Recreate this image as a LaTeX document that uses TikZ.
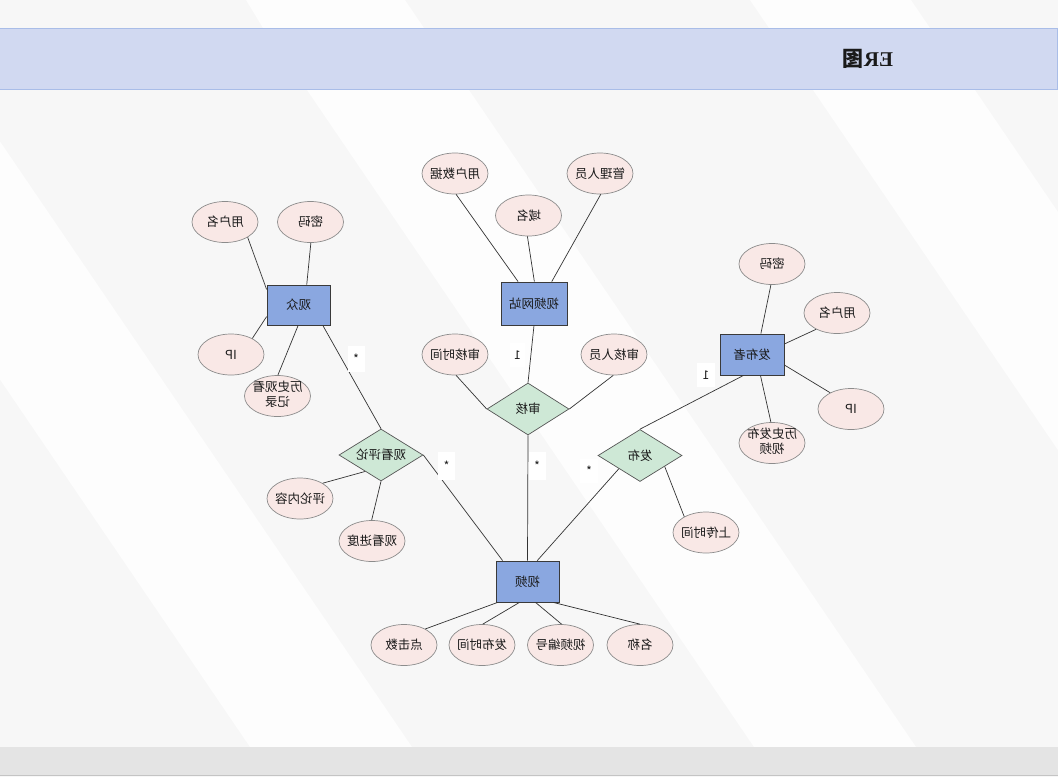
\documentclass[tikz,border=0pt]{standalone}
\usepackage{fontspec}
\setmainfont{Noto Sans CJK SC}
\newfontfamily\titlefont{Liberation Serif}
\usetikzlibrary{shapes.geometric}
\definecolor{bggray}{HTML}{F7F7F7}
\definecolor{bgwhite}{HTML}{FDFDFD}
\definecolor{headfill}{HTML}{D1D9F1}
\definecolor{headline}{HTML}{A9BDE8}
\definecolor{footfill}{HTML}{E4E4E4}
\definecolor{footline}{HTML}{C4C4C4}
\definecolor{entfill}{HTML}{8AA7E0}
\definecolor{entborder}{HTML}{3A3A3A}
\definecolor{relfill}{HTML}{CEE8D6}
\definecolor{relborder}{HTML}{555555}
\definecolor{attrfill}{HTML}{F9E8E6}
\definecolor{attrborder}{HTML}{8C8C8C}
\definecolor{linkc}{HTML}{333333}
\definecolor{txt}{HTML}{1A1A1A}
\newcommand{\mir}[1]{\reflectbox{#1}}
\newcommand{\mira}[1]{\makebox[0pt]{\reflectbox{#1}}}
\newcommand{\mirtwo}[2]{\makebox[0pt]{\reflectbox{\begin{tabular}{@{}c@{}}#1\\[0.5pt]#2\end{tabular}}}}
\tikzset{
  ent/.style={rectangle, draw=entborder, fill=entfill, line width=0.8pt, minimum width=64, minimum height=41, inner sep=0, text=txt, font=\fontsize{12.5}{15}\selectfont},
  rel/.style={diamond, draw=relborder, fill=relfill, line width=0.7pt, minimum width=84, minimum height=52, inner sep=0, aspect=1.6, text=txt, font=\fontsize{12.5}{15}\selectfont},
  attr/.style={ellipse, draw=attrborder, fill=attrfill, line width=0.7pt, minimum width=66, minimum height=41, inner sep=0, text=txt, font=\fontsize{12.5}{15}\selectfont},
  twoline/.style={text height=6.2pt, text depth=0pt},
  card/.style={rectangle, fill=white, minimum width=16, minimum height=24, inner sep=0, text=txt, font=\fontsize{12}{14}\selectfont},
  link/.style={draw=linkc, line width=0.7pt},
}
\begin{document}
\begin{tikzpicture}[x=1pt,y=-1pt]
\useasboundingbox (0,0) rectangle (1058,777);
% background
\fill[bggray] (0,0) rectangle (1058,777);
\begin{scope}
  \clip (0,0) rectangle (1058,28);
  \fill[bgwhite] (246,0) -- (405,0) -- (424,28) -- (263,28) -- cycle;
  \fill[bgwhite] (750,0) -- (911,0) -- (930,28) -- (769,28) -- cycle;
\end{scope}
\begin{scope}
  \clip (0,90) rectangle (1058,747);
  \fill[bgwhite] (-197,90) -- (-35,90) -- (412,747) -- (250,747) -- cycle;
  \fill[bgwhite] (307,90) -- (469,90) -- (916,747) -- (754,747) -- cycle;
  \fill[bgwhite] (813,90) -- (975,90) -- (1422,747) -- (1260,747) -- cycle;
\end{scope}
% header and footer
\fill[headfill] (0,28) rectangle (1057,90);
\draw[headline, line width=0.8pt] (0,28.4) -- (1057,28.4) -- (1057,89.6) -- (0,89.6);
\node[text=txt, font=\fontsize{21}{24}\selectfont\bfseries, inner sep=0] (title) at (868,59) {\mir{{\titlefont ER}图}};
\fill[footfill] (0,747) rectangle (1058,775);
\draw[footline, line width=0.8pt] (0,775.5) -- (1058,775.5);

% entities
\node[ent, minimum width=63, minimum height=40] (guanzhong) at (298.5,305) {\mir{观众}};
\node[ent, minimum width=66, minimum height=43] (wangzhan) at (534,303.5) {\mir{视频网站}};
\node[ent] (fabuzhe) at (752,354.5) {\mir{发布者}};
\node[ent, minimum width=63] (shipin) at (527.5,581.5) {\mir{视频}};

% relationships
\node[rel] (pinglun) at (381,455) {\mir{观看评论}};
\node[rel, minimum width=82] (shenhe) at (528,409) {\mir{审核}};
\node[rel] (fabu) at (640,455.5) {\mir{发布}};

% attributes of 观众
\node[attr] (gz_user) at (225,222) {\mira{用户名}};
\node[attr] (gz_pwd) at (310.5,222) {\mira{密码}};
\node[attr] (gz_ip) at (231,354.5) {\mira{IP}};
\node[attr, twoline] (gz_hist) at (277.5,396) {\mirtwo{历史观看}{记录}};
% attributes of 视频网站
\node[attr] (wz_data) at (455,173.5) {\mira{用户数据}};
\node[attr] (wz_admin) at (600,173.5) {\mira{管理人员}};
\node[attr] (wz_domain) at (528.5,215.5) {\mira{域名}};
% attributes of 审核
\node[attr] (sh_time) at (455,354.5) {\mira{审核时间}};
\node[attr] (sh_staff) at (614,354.5) {\mira{审核人员}};
% attributes of 发布者
\node[attr] (fb_pwd) at (772,264) {\mira{密码}};
\node[attr] (fb_user) at (837,313) {\mira{用户名}};
\node[attr] (fb_ip) at (851,409) {\mira{IP}};
\node[attr, twoline] (fb_hist) at (772,443) {\mirtwo{历史发布}{视频}};
% attributes of 观看评论
\node[attr] (pl_content) at (300,498.5) {\mira{评论内容}};
\node[attr] (pl_progress) at (372,541) {\mira{观看进度}};
% attribute of 发布
\node[attr] (fabu_time) at (706,532.5) {\mira{上传时间}};
% attributes of 视频
\node[attr] (sp_clicks) at (404,645) {\mira{点击数}};
\node[attr] (sp_time) at (482,645) {\mira{发布时间}};
\node[attr] (sp_id) at (560.5,645) {\mira{视频编号}};
\node[attr] (sp_name) at (640,645) {\mira{名称}};

% connectors: 观众
\draw[link] (gz_user.-34) -- (guanzhong.154);
\draw[link] (gz_pwd.-89) -- (guanzhong.68);
\draw[link] (gz_ip.37) -- (guanzhong.200);
\draw[link] (gz_hist.89.5) -- (guanzhong.269.5);
\draw[link] (guanzhong.-40) -- (pinglun.north);
% 视频网站
\draw[link] (wz_data.-87) -- (wangzhan.126);
\draw[link] (wz_domain.267) -- (wangzhan.89);
\draw[link] (wz_admin.-88) -- (wangzhan.51);
\draw[link] (wangzhan.south) -- (shenhe.north);
% 审核
\draw[link] (sh_time.-87) -- (shenhe.west);
\draw[link] (sh_staff.268) -- (shenhe.east);
\draw[link] (shenhe.south) -- (shipin.north);
% 观看评论
\draw[link] (pl_content.34) -- (pinglun.226);
\draw[link] (pl_progress.91) -- (pinglun.south);
\draw[link] (pinglun.east) -- (shipin.140);
% 发布
\draw[link] (fabuzhe.248) -- (fabu.north);
\draw[link] (fabu.212.5) -- (shipin.65);
\draw[link] (fabu.-24) -- (fabu_time.144);
% 发布者
\draw[link] (fb_pwd.267) -- (fabuzhe.67);
\draw[link] (fb_user.218) -- (fabuzhe.18);
\draw[link] (fb_ip.142) -- (fabuzhe.-18);
\draw[link] (fb_hist.93) -- (fabuzhe.-68);
% 视频
\draw[link] (sp_clicks.37) -- (shipin.215);
\draw[link] (sp_time.88) -- (shipin.249.5);
\draw[link] (sp_id.87) -- (shipin.-69);
\draw[link] (sp_name.90) -- (shipin.-39);

% cardinalities
\node[card, minimum width=17, minimum height=26] (c1) at (356,359) {\mir{*}};
\node[card, minimum width=15] (c2) at (517.5,355) {\mir{1}};
\node[card, minimum width=17, minimum height=28] (c3) at (446.5,466) {\mir{*}};
\node[card, minimum width=17, minimum height=28] (c4) at (537,466) {\mir{*}};
\node[card, minimum width=18] (c5) at (589,471) {\mir{*}};
\node[card, minimum width=18] (c6) at (706,375) {\mir{1}};
\end{tikzpicture}
\end{document}
